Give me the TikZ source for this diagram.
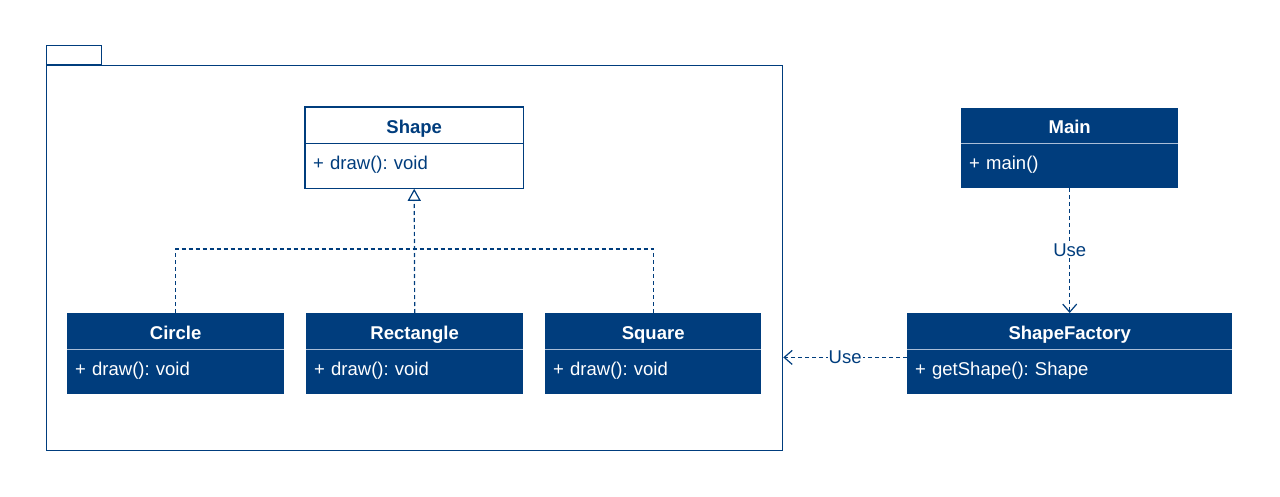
\documentclass[tikz,border=0pt]{standalone}
\usepackage{fontspec}
\setmainfont{Liberation Sans}
\usetikzlibrary{arrows.meta}
\definecolor{uml}{RGB}{0,61,125}
\definecolor{divl}{RGB}{170,190,215}
\frenchspacing
\begin{document}
\frenchspacing
\begin{tikzpicture}[x=1pt,y=-1pt,
  every node/.style={text=uml},
  hdr/.style={minimum height=36pt, inner sep=0pt, anchor=north west, text height=16pt, text depth=0pt, font=\fontsize{18.5}{22}\selectfont\bfseries},
  bdy/.style={minimum height=45pt, inner xsep=8pt, inner ysep=0pt, anchor=north west, align=left, text height=12pt, text depth=5pt, font=\fontsize{18.5}{22}\selectfont},
  hollowT/.style={hdr, fill=white},
  hollowB/.style={bdy, fill=white},
  solidT/.style={hdr, fill=uml, text=white},
  solidB/.style={bdy, fill=uml, text=white},
  dsh/.style={draw=uml, line width=1.2pt, dash pattern=on 4pt off 3pt},
  lbl/.style={fill=white, inner sep=1pt, font=\fontsize{18.5}{22}\selectfont},
  opn/.style={-{Straight Barb[length=8pt,width=14pt,line width=1.2pt]}}
]
\useasboundingbox (0,0) rectangle (1280,497);

% package
\node[draw=uml, line width=1.3pt, minimum width=736pt, minimum height=385pt, inner sep=0pt, anchor=north west] (pkg) at (46,65) {};
\node[draw=uml, line width=1.3pt, minimum width=55pt, minimum height=19pt, inner sep=0pt, anchor=south west] (tab) at (pkg.north west) {};

% Shape
\node[hollowT, minimum width=218pt] (shapeT) at (305,107) {Shape};
\node[hollowB, minimum width=218pt, text width=202pt, minimum height=45pt] (shapeB) at (shapeT.south west) {+ draw(): void};
\draw[uml, line width=1.3pt] (shapeT.north west) rectangle (shapeB.south east);
\draw[uml, line width=1.3pt] (shapeT.south west) -- (shapeT.south east);

% Circle
\node[solidT, minimum width=217pt] (circT) at (67,313) {Circle};
\node[solidB, minimum width=217pt, text width=201pt, minimum height=44pt] (circB) at (circT.south west) {+ draw(): void};
\draw[divl, line width=1pt] (circT.south west) -- (circT.south east);

% Rectangle
\node[solidT, minimum width=217pt] (rectT) at (306,313) {Rectangle};
\node[solidB, minimum width=217pt, text width=201pt, minimum height=44pt] (rectB) at (rectT.south west) {+ draw(): void};
\draw[divl, line width=1pt] (rectT.south west) -- (rectT.south east);

% Square
\node[solidT, minimum width=216pt] (sqT) at (545,313) {Square};
\node[solidB, minimum width=216pt, text width=200pt, minimum height=44pt] (sqB) at (sqT.south west) {+ draw(): void};
\draw[divl, line width=1pt] (sqT.south west) -- (sqT.south east);

% Main
\node[solidT, minimum width=217pt, minimum height=35pt] (mainT) at (961,108) {Main};
\node[solidB, minimum width=217pt, text width=201pt, minimum height=44pt] (mainB) at (mainT.south west) {+ main()};
\draw[divl, line width=1pt] (mainT.south west) -- (mainT.south east);

% ShapeFactory
\node[solidT, minimum width=325pt] (sfT) at (907,313) {ShapeFactory};
\node[solidB, minimum width=325pt, text width=309pt, minimum height=44pt] (sfB) at (sfT.south west) {+ getShape(): Shape};
\draw[divl, line width=1pt] (sfT.south west) -- (sfT.south east);

% realization
\draw[dsh] (circT.north) -- ++(0,-64) -| (sqT.north);
\draw[dsh, -{Triangle[open,length=12pt,width=13pt,line width=1.2pt]}] (rectT.north) -- (shapeB.south);

% Use dependencies
\draw[dsh, opn] (mainB.south) -- node[lbl] {Use} (sfT.north);
\draw[dsh, opn] ([yshift=-8pt]sfB.north west) -- node[lbl] {Use} ([yshift=-8pt]sfB.north west -| pkg.east);
\end{tikzpicture}
\end{document}
